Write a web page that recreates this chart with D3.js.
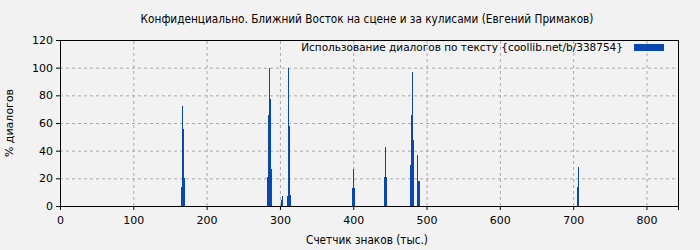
<!DOCTYPE html>
<html>
<head>
<meta charset="utf-8">
<script src="https://d3js.org/d3.v7.min.js"></script>
<style>
  body { margin: 0; background: #f2f2f2; }
  .grid line { stroke: #aaaaaa; stroke-dasharray: 3,3; }
  .grid path { display: none; }
</style>
</head>
<body>
<div id="chart"></div>
<script>
// chart data (position in thousands of chars, % dialogues)
var charPos = [165, 166.4, 167.8, 169.2,
               282.4, 283.8, 285.1, 286.5, 287.9,
               301.5, 302.9, 309.7, 311.1, 312.4, 313.8,
               398.4, 399.7, 401.1,
               442, 443.4, 444.8,
               477.5, 478.9, 480.2, 481.6,
               487.1, 488.4, 489.8,
               705.3, 706.7];
var dialogPct = [14, 72, 56, 20,
                 21, 66, 100, 77, 27,
                 4, 7, 7, 100, 58, 8,
                 13, 27, 13,
                 21, 43, 21,
                 30, 66, 97, 48,
                 37, 18, 18,
                 14, 28];
var binWidth = 1.36;
var xTicks = [0, 100, 200, 300, 400, 500, 600, 700, 800];
var yTicks = [0, 20, 40, 60, 80, 100, 120];
var title = "Конфиденциально. Ближний Восток на сцене и за кулисами (Евгений Примаков)";
var legendLabel = "Использование диалогов по тексту {coollib.net/b/338754}";
var xLabel = "Счетчик знаков (тыс.)";
var yLabel = "% диалогов";

var data = charPos.map(function(p, i) { return {pos: p, value: dialogPct[i]}; });

var margin = {top: 40, right: 22, bottom: 44, left: 60},
    width = 700 - margin.left - margin.right,
    height = 250 - margin.top - margin.bottom;

var root = d3.select("#chart")
  .append("svg")
    .attr("width", 700)
    .attr("height", 250)
    .style("font-family", "DejaVu Sans")
    .style("font-size", "11px");

root.append("rect")
  .attr("width", 700).attr("height", 250)
  .attr("fill", "#f2f2f2");

var svg = root.append("g")
  .attr("transform", "translate(" + margin.left + "," + margin.top + ")");

var x = d3.scaleLinear().domain([0, 843]).range([0, width]);
var y = d3.scaleLinear().domain([0, 120]).range([height, 0]);

// gridlines
svg.append("g")
  .attr("class", "grid")
  .attr("transform", "translate(0," + height + ")")
  .call(d3.axisBottom(x).tickValues(xTicks.slice(1)).tickSize(-height).tickFormat(""));

svg.append("g")
  .attr("class", "grid")
  .call(d3.axisLeft(y).tickValues(yTicks.slice(1, -1)).tickSize(-width).tickFormat(""));

// bars
svg.selectAll(".bar")
  .data(data)
  .enter().append("rect")
    .attr("class", "bar")
    .attr("x", function(d) { return x(d.pos); })
    .attr("width", function(d) { return x(d.pos + binWidth) - x(d.pos); })
    .attr("y", function(d) { return y(d.value); })
    .attr("height", function(d) { return height - y(d.value); })
    .attr("fill", "#0a47b0")
    .attr("shape-rendering", "crispEdges");

// frame
svg.append("rect")
  .attr("width", width).attr("height", height)
  .attr("fill", "none")
  .attr("stroke", "black")
  .attr("shape-rendering", "crispEdges");

// axes
var xAxis = svg.append("g")
  .attr("transform", "translate(0," + height + ")")
  .call(d3.axisBottom(x).tickValues(xTicks).tickSizeOuter(0).tickSize(4).tickPadding(6));
var yAxis = svg.append("g")
  .call(d3.axisLeft(y).tickValues(yTicks).tickSizeOuter(0).tickSize(4).tickPadding(3));
[xAxis, yAxis].forEach(function(a) {
  a.selectAll("text").style("font-family", "DejaVu Sans").style("font-size", "11px").attr("fill", "#000");
  a.select(".domain").attr("stroke", "black");
});

// title
root.append("text")
  .attr("x", 367).attr("y", 23)
  .attr("text-anchor", "middle")
  .style("font-family", "DejaVu Sans Condensed")
  .style("font-stretch", "condensed")
  .style("font-size", "11.7px")
  .text(title);

// axis labels
root.append("text")
  .attr("x", 367).attr("y", 244)
  .attr("text-anchor", "middle")
  .style("font-family", "DejaVu Sans Condensed")
  .style("font-stretch", "condensed")
  .style("font-size", "11.7px")
  .text(xLabel);

root.append("text")
  .attr("transform", "translate(13," + (margin.top + height / 2) + ") rotate(-90)")
  .attr("text-anchor", "middle")
  .text(yLabel);

// legend
root.append("text")
  .attr("x", 623).attr("y", 51)
  .attr("text-anchor", "end")
  .style("font-size", "10.5px")
  .text(legendLabel);
root.append("rect")
  .attr("x", 634).attr("y", 44)
  .attr("width", 30).attr("height", 7)
  .attr("fill", "#0a47b0");
</script>
</body>
</html>
